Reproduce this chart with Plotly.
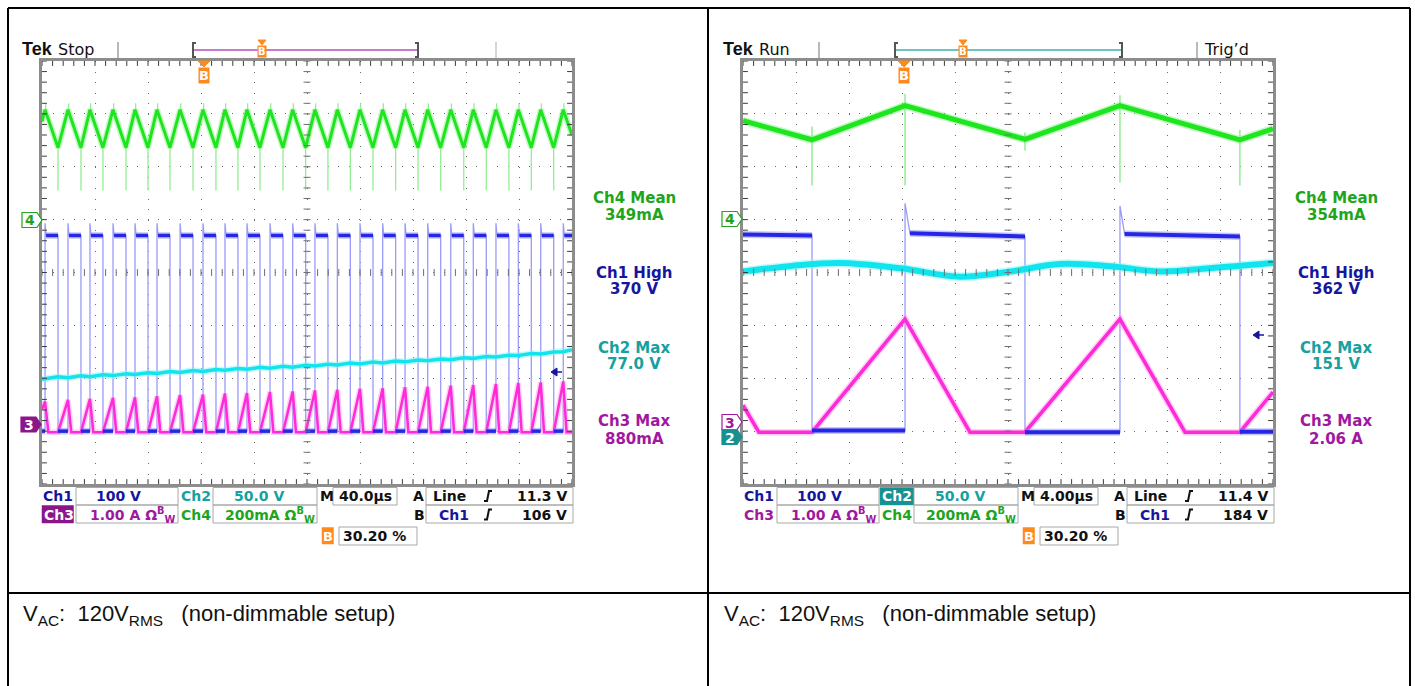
import plotly.graph_objects as go

W, H = 1415, 686

# ---------------- channel scales (per division) ----------------
SCALE = {"ch1": 100.0, "ch2": 50.0, "ch3": 1.0, "ch4": 200.0}     # V, V, A, mA
OFFSET_LEFT = {"ch1": -3.0, "ch2": -3.0, "ch3": -2.94, "ch4": 1.0}  # ground, divisions
OFFSET_RIGHT = {"ch1": -2.94, "ch2": -2.84, "ch3": -2.94, "ch4": 1.0}

# ---------------- left capture: 40 µs/div ----------------
LEFT_RISE_US = [2.3, 19.6, 36.2, 53.6, 70.2, 86.8, 104.2, 121.5, 138.1, 154.7, 172.1, 189.2,
                206.0, 222.9, 240.0, 257.1, 274.0, 291.1, 308.5, 325.5, 342.6, 359.5, 376.4, 393.4]
LEFT_FALL_US = [12.1, 29.4, 46.0, 63.4, 80.0, 96.6, 114.0, 131.3, 147.9, 164.5, 181.9, 199.0,
                215.8, 232.7, 249.8, 266.9, 283.8, 300.9, 318.3, 335.3, 352.4, 369.3, 386.2]
LEFT_CH1_HIGH_V = 370
LEFT_CH1_OVERSHOOT_V = 393
LEFT_CH1_LOW_V = 0
LEFT_CH4_PEAK_MA = 416
LEFT_CH4_VALLEY_MA = 272
LEFT_CH4_START_MA = 371
LEFT_CH4_END_MA = 320
LEFT_CH4_SPIKE_LO_MA = 110
LEFT_CH4_SPIKE_HI_MA = 440
LEFT_CH3_PEAK_A = [0.50, 0.53, 0.55, 0.57, 0.58, 0.60, 0.62, 0.63, 0.65, 0.66, 0.68, 0.69,
                   0.71, 0.72, 0.74, 0.75, 0.77, 0.78, 0.80, 0.81, 0.83, 0.85, 0.86, 0.88]
LEFT_CH3_START_A = 0.35
LEFT_CH3_BASE_A = -0.08
LEFT_CH3_FALL_US = 2.5
LEFT_CH2_LEVEL_V = [49.5, 50.5, 51.5, 52.5, 53.5, 54.5, 55.5, 56.5, 57.5, 58.5, 59.5, 60.5,
                    61.5, 62.5, 63.5, 64.5, 65.5, 66.5, 67.5, 68.8, 70.0, 71.5, 73.0, 75.0]
LEFT_CH2_RIPPLE_V = 1.8
LEFT_CH2_START_V = 49.0
LEFT_CH2_END_V = 77.0

# ---------------- right capture: 4 µs/div ----------------
RIGHT_CH1_T = [0, 5.21, 5.21, 12.23, 12.23, 12.6, 21.28, 21.28, 28.45, 28.45, 28.8, 37.5, 37.5, 40]
RIGHT_CH1_V = [366, 364, -5, -5, 425, 368, 362, -8, -8, 420, 367, 362, -7, -7]
RIGHT_CH4_T = [0, 5.21, 12.23, 21.28, 28.45, 37.5, 40]
RIGHT_CH4_MA = [374, 302, 431, 304, 431, 302, 344]
RIGHT_CH4_SPIKE_T = [5.21, 12.23, 21.28, 28.45, 37.5]
RIGHT_CH4_SPIKE_HI = [352, 476, 330, 470, 340]
RIGHT_CH4_SPIKE_LO = [129, 129, 261, 140, 129]
RIGHT_CH3_T = [0, 1.2, 5.21, 12.23, 17.13, 21.28, 28.45, 33.36, 37.5, 40]
RIGHT_CH3_A = [0.43, -0.08, -0.08, 2.06, -0.08, -0.08, 2.06, -0.08, -0.08, 0.68]
RIGHT_CH2_T = [0, 3.5, 7.3, 11.9, 16.4, 20.2, 23.9, 27.7, 31.5, 35.2, 40]
RIGHT_CH2_V = [143, 148, 151, 146, 138, 143, 150, 148, 143, 146, 151]

# ---------------- on-screen readouts ----------------
MEAS_NAMES = ["Ch4 Mean", "Ch1 High", "Ch2 Max", "Ch3 Max"]
MEAS_LEFT = ["349mA", "370 V", "77.0 V", "880mA"]
MEAS_RIGHT = ["354mA", "362 V", "151 V", "2.06 A"]
STATE = ["Stop", "Run"]
TIMEBASE = ["40.0µs", "4.00µs"]
TRIG_A = ["11.3 V", "11.4 V"]
TRIG_B = ["106 V", "184 V"]
DELAY = "30.20 %"
CAPTION = "V<sub>AC</sub>:\u00a0\u00a0120V<sub>RMS</sub>\u00a0\u00a0\u00a0(non-dimmable setup)"

# colours
C_CH1, C_CH2, C_CH3, C_CH4 = "#16169c", "#17a0a0", "#a018a0", "#1ea51e"
ORANGE = "#ff8a1c"
FONT = "DejaVu Sans"

# ---------------- helpers ----------------
def X(px):
    return px / W


def Y(py):
    return 1 - py / H


def dv(values, ch, offs):
    return [None if v is None else offs[ch] + v / SCALE[ch] for v in values]


def runs(xs, ys, thr):
    """Keep only the segments that are not near-vertical jumps."""
    ox, oy, last = [], [], None
    for i in range(len(xs) - 1):
        if xs[i + 1] - xs[i] < thr:
            continue
        if last != i:
            if ox:
                ox.append(None)
                oy.append(None)
            ox.append(xs[i])
            oy.append(ys[i])
        ox.append(xs[i + 1])
        oy.append(ys[i + 1])
        last = i + 1
    return ox, oy


fig = go.Figure()
shapes, annotations = [], []


def line_trace(xs, ys, color, width, xa, ya, opacity=1.0, shape="linear"):
    fig.add_trace(go.Scatter(x=xs, y=ys, mode="lines", xaxis=xa, yaxis=ya,
                             line=dict(color=color, width=width, shape=shape),
                             opacity=opacity, hoverinfo="skip", showlegend=False,
                             connectgaps=False))


def band(xs, ys, core, fringe, w, xa, ya, thr, shape="linear"):
    cx, cy = runs(xs, ys, thr)
    line_trace(cx, cy, fringe, w + 3, xa, ya, 0.45, shape)
    line_trace(cx, cy, core, w, xa, ya, 1.0, shape)


def label(x, y, text, color="#000", size=14, xanchor="left", bold=True, family=FONT, bg=None):
    annotations.append(dict(x=X(x), y=Y(y), xref="paper", yref="paper", text=text,
                            showarrow=False, xanchor=xanchor, yanchor="middle",
                            font=dict(family=family, size=size, color=color,
                                      weight="bold" if bold else "normal"),
                            bgcolor=bg, borderpad=0))


def path(points, color, width=1.5, fill=None, close=False):
    d = "M " + " L ".join(f"{X(px)},{Y(py)}" for px, py in points) + (" Z" if close else "")
    shapes.append(dict(type="path", xref="paper", yref="paper", path=d,
                       line=dict(color=color, width=width),
                       fillcolor=fill if fill else "rgba(0,0,0,0)", layer="above"))


def rect(x0, y0, x1, y1, color, width=1, fill=None):
    shapes.append(dict(type="rect", xref="paper", yref="paper",
                       x0=X(x0), y0=Y(y1), x1=X(x1), y1=Y(y0),
                       line=dict(color=color, width=width),
                       fillcolor=fill if fill else "rgba(0,0,0,0)", layer="above"))


# ---------------- left waveforms ----------------
offs = OFFSET_LEFT
# Ch1 drain voltage (square wave)
b_t, b_v = [0], [LEFT_CH1_LOW_V]
for k, r in enumerate(LEFT_RISE_US):
    b_t += [r, r, r + 0.8]
    b_v += [LEFT_CH1_LOW_V, LEFT_CH1_OVERSHOOT_V, LEFT_CH1_HIGH_V]
    if k < len(LEFT_FALL_US):
        f = LEFT_FALL_US[k]
        b_t += [f, f]
        b_v += [LEFT_CH1_HIGH_V, LEFT_CH1_LOW_V]
    else:
        b_t += [400]
        b_v += [LEFT_CH1_HIGH_V]
b_y = dv(b_v, "ch1", offs)
line_trace(b_t, b_y, "#9a9cf8", 1.3, "x", "y")

# Ch2 (slow rising bulk voltage with switching ripple)
c_t, c_v = [0], [LEFT_CH2_START_V]
for k, r in enumerate(LEFT_RISE_US):
    c_t.append(r)
    c_v.append(LEFT_CH2_LEVEL_V[k])
    if k < len(LEFT_FALL_US):
        c_t.append(LEFT_FALL_US[k])
        c_v.append(LEFT_CH2_LEVEL_V[k] + LEFT_CH2_RIPPLE_V)
c_t.append(400)
c_v.append(LEFT_CH2_END_V)
band(c_t, dv(c_v, "ch2", offs), "#12e4ee", "#8cf2f8", 3.5, "x", "y", 0.0)

# Ch3 (switch current ramps)
m_t, m_v = [0], [LEFT_CH3_START_A]
for k, r in enumerate(LEFT_RISE_US):
    if k > 0:
        m_t.append(LEFT_FALL_US[k - 1])
        m_v.append(LEFT_CH3_BASE_A)
    m_t += [r, r + LEFT_CH3_FALL_US]
    m_v += [LEFT_CH3_PEAK_A[k], LEFT_CH3_BASE_A]
m_t.append(400)
m_v.append(LEFT_CH3_BASE_A)
band(m_t, dv(m_v, "ch3", offs), "#ff2ad8", "#ff96ee", 2.5, "x", "y", 1.0)

# Ch1 bright levels on top of the ramps
band(b_t, b_y, "#2626e6", "#8484f4", 3.5, "x", "y", 1.0)

# Ch4 output current (triangle ripple + switching spikes)
g_t, g_v = [0], [LEFT_CH4_START_MA]
for k, r in enumerate(LEFT_RISE_US):
    g_t.append(r)
    g_v.append(LEFT_CH4_PEAK_MA)
    if k < len(LEFT_FALL_US):
        g_t.append(LEFT_FALL_US[k])
        g_v.append(LEFT_CH4_VALLEY_MA)
g_t.append(400)
g_v.append(LEFT_CH4_END_MA)
sp_t, sp_v = [], []
for f in LEFT_FALL_US:
    sp_t += [f, f, None]
    sp_v += [LEFT_CH4_VALLEY_MA, LEFT_CH4_SPIKE_LO_MA, None]
for r in LEFT_RISE_US:
    sp_t += [r + 0.5, r + 0.5, None]
    sp_v += [LEFT_CH4_PEAK_MA, LEFT_CH4_SPIKE_HI_MA, None]
line_trace(sp_t, dv(sp_v, "ch4", offs), "#92ee92", 1.3, "x", "y")
band(g_t, dv(g_v, "ch4", offs), "#1ee61e", "#80f080", 3, "x", "y", 0.0)

# ---------------- right waveforms ----------------
offs = OFFSET_RIGHT
rb_y = dv(RIGHT_CH1_V, "ch1", offs)
line_trace(RIGHT_CH1_T, rb_y, "#9a9cf8", 1.3, "x2", "y2")
band(RIGHT_CH2_T, dv(RIGHT_CH2_V, "ch2", offs), "#12e4ee", "#8cf2f8", 6, "x2", "y2", 0.0,
     shape="spline")
band(RIGHT_CH3_T, dv(RIGHT_CH3_A, "ch3", offs), "#ff2ad8", "#ff96ee", 3.5, "x2", "y2", 0.0)
band(RIGHT_CH1_T, rb_y, "#2626e6", "#8484f4", 4, "x2", "y2", 0.5)
rs_t, rs_v = [], []
for t, hi, lo in zip(RIGHT_CH4_SPIKE_T, RIGHT_CH4_SPIKE_HI, RIGHT_CH4_SPIKE_LO):
    rs_t += [t, t, None]
    rs_v += [hi, lo, None]
line_trace(rs_t, dv(rs_v, "ch4", offs), "#92ee92", 1.5, "x2", "y2")
band(RIGHT_CH4_T, dv(RIGHT_CH4_MA, "ch4", offs), "#1ee61e", "#80f080", 5, "x2", "y2", 0.0)

# ---------------- graticule tick marks ----------------
def graticule(xa, ya, span):
    step = span / 50.0
    xt = [step * k for k in range(51)]
    yt = [0.2 * j for j in range(-20, 21)]
    edge = dict(color="#3a3a3a", width=1)
    mid = dict(color="#707070", width=1)
    for yy, tick, size in ((4, edge, 7), (-4, edge, 7), (0, mid, 5)):
        fig.add_trace(go.Scatter(x=xt, y=[yy] * len(xt), mode="markers", xaxis=xa, yaxis=ya,
                                 marker=dict(symbol="line-ns", size=size, line=tick),
                                 hoverinfo="skip", showlegend=False))
    for xx, tick, size in ((0, edge, 7), (span, edge, 7), (span / 2, mid, 5)):
        fig.add_trace(go.Scatter(x=[xx] * len(yt), y=yt, mode="markers", xaxis=xa, yaxis=ya,
                                 marker=dict(symbol="line-ew", size=size, line=tick),
                                 hoverinfo="skip", showlegend=False))


graticule("x", "y", 400)
graticule("x2", "y2", 40)

# ---------------- screen furniture for both captures ----------------
GRID_L = [42, 743]
GRID_R = [572, 1273]
GRID_T, GRID_B = 61, 484
for p in range(2):
    dx = 701 * p
    gl, gr = GRID_L[p], GRID_R[p]
    rect(gl - 1.5, GRID_T - 1.5, gr + 1.5, GRID_B + 1.5, "#8c8c8c", 3)

    # header bar
    label(22 + dx - 1, 49.5, "Tek", "#111", 18, bold=True, family="Liberation Sans")
    label(57 + dx, 49.5, STATE[p], "#111", 16, bold=False)
    path([(118 + dx, 42), (118 + dx, 58)], "#a0a0a0", 1.5)
    b0, b1 = 193 + dx + p, 418 + dx + 3 * p
    path([(b0, 50), (b1, 50)], "#c47ccb" if p == 0 else "#6cc4c4", 2.2)
    path([(b0 + 3, 43), (b0, 43), (b0, 57), (b0 + 3, 57)], "#555", 2)
    path([(b1 - 3, 43), (b1, 43), (b1, 57), (b1 - 3, 57)], "#555", 2)
    tm = 262 + dx
    path([(tm - 4, 40), (tm + 4, 40), (tm, 45)], ORANGE, 1, fill=ORANGE, close=True)
    label(tm, 51.5, "B", "#fff", 10, "center", bg=ORANGE)
    path([(496 + dx, 42), (496 + dx, 58)], "#c8c8c8", 1.5)

    # trigger-position marker on the graticule
    bm = 204 + dx - 1 * p
    path([(bm - 6, 61), (bm + 6, 61), (bm, 67)], ORANGE, 1, fill=ORANGE, close=True)
    label(bm, 75.5, "B", "#fff", 13, "center", bg=ORANGE)

    # automatic measurements
    vals = MEAS_LEFT if p == 0 else MEAS_RIGHT
    cx = 634 + dx + 1 * p
    for (ny, vy), name, val, col in zip(((198, 214.5), (272.5, 289), (347.5, 364), (421, 439)),
                                          MEAS_NAMES, vals, (C_CH4, C_CH1, C_CH2, C_CH3)):
        label(cx, ny, name, col, 15, "center")
        label(cx, vy, val, col, 15, "center")

    # readout boxes
    for (x0, x1) in ((76, 178), (213, 317)):
        rect(x0 + dx, 487.5, x1 + dx, 505, "#a8a8a8")
        rect(x0 + dx, 505, x1 + dx, 523, "#a8a8a8")
    rect(333 + dx, 487.5, 397 + dx, 505, "#a8a8a8")
    rect(426 + dx, 487.5, 573 + dx, 505, "#a8a8a8")
    rect(426 + dx, 505, 573 + dx, 523, "#a8a8a8")
    rect(339 + dx, 527, 417 + dx, 545, "#a8a8a8")

    r1, r2, r3 = 496, 514.5, 536
    label(42 + dx, r1, "Ch1", C_CH1, 14)
    label(118.5 + dx, r1, "100 V", C_CH1, 14, "center")
    if p == 1:
        rect(179 + dx, 487.5, 212.5 + dx, 505, C_CH2, 0.5, fill="#189090")
        label(180 + dx, r1, "Ch2", "#fff", 14)
    else:
        label(180 + dx, r1, "Ch2", C_CH2, 14)
    label(259 + dx, r1, "50.0 V", C_CH2, 14, "center")
    label(319 + dx, r1, "M", "#111", 14)
    label(365.5 + dx, r1, TIMEBASE[p], "#111", 14, "center")
    label(418 + dx, r1, "A", "#111", 14, "center")
    label(432 + dx, r1, "Line", "#111", 14)
    label(568 + dx, r1, TRIG_A[p], "#111", 14, "right")

    if p == 0:
        rect(42 + dx, 505.5, 73.5 + dx, 523, "#8a168a", 0.5, fill="#8a168a")
        label(42.5 + dx, r2, "Ch3", "#fff", 14)
    else:
        label(42 + dx, r2, "Ch3", C_CH3, 14)
    label(177 + dx, r2, "1.00 A Ω<sup>B</sup><sub>W</sub>", C_CH3, 14, "right")
    label(180 + dx, r2, "Ch4", C_CH4, 14)
    label(316 + dx, r2, "200mA Ω<sup>B</sup><sub>W</sub>", C_CH4, 14, "right")
    label(419 + dx, r2, "B", "#111", 14, "center")
    label(438 + dx, r2, "Ch1", C_CH1, 14)
    label(568 + dx, r2, TRIG_B[p], "#111", 14, "right")

    # rising-edge slope glyphs
    for ry in (r1, r2):
        sx = 484 + dx
        path([(sx, ry + 5), (sx + 3, ry + 5), (sx + 5, ry - 5), (sx + 8, ry - 5)], "#111", 2)

    rect(322 + dx, 527.5, 333.5 + dx, 544, ORANGE, 0.5, fill=ORANGE)
    label(327.8 + dx, r3, "B", "#fff", 13, "center")
    label(342 + dx, r3, DELAY, "#111", 14)

    # caption cell
    label(22 + dx, 615, CAPTION, "#111", 22, bold=False, family="Liberation Sans")


# header text only on the running capture
path([(1197, 42), (1197, 58)], "#b0b0b0", 1.5)
label(1203, 49.5, "Trig\u2019d", "#111", 16, bold=False)


# channel ground markers
def gmarker(x0, cy, digit, color, filled):
    pts = [(x0, cy - 7.5), (x0 + 15, cy - 7.5), (x0 + 20, cy), (x0 + 15, cy + 7.5), (x0, cy + 7.5)]
    path(pts, color, 1.2, fill=color if filled else "#ffffff", close=True)
    label(x0 + 8, cy + 0.5, digit, "#ffffff" if filled else color, 14, "center")


gmarker(22, 220, "4", C_CH4, False)
gmarker(21, 424.5, "3", "#8a168a", True)
gmarker(722, 219, "4", C_CH4, False)
gmarker(722, 422, "3", C_CH3, False)
gmarker(722, 437, "2", "#189090", True)

# Ch1 trigger-level pointers
for ax, ay in ((556, 372), (1258, 335)):
    path([(ax - 5, ay), (ax + 1, ay - 4), (ax + 1, ay + 4)], C_CH1, 1, fill=C_CH1, close=True)
    path([(ax, ay), (ax + 6, ay)], C_CH1, 1.5)

# table rules
for seg in (((8, 8), (1410, 8)), ((8, 593), (1410, 593)), ((8, 8), (8, 686)),
            ((708, 8), (708, 686)), ((1410, 8), (1410, 686))):
    path(list(seg), "#000", 2)

axis_common = dict(showgrid=True, gridcolor="#6a6a6a", griddash="1px,9.58px", gridwidth=1,
                   zeroline=False, showticklabels=False, ticks="", showline=False,
                   fixedrange=True)
ydom = [Y(GRID_B), Y(GRID_T)]
fig.update_layout(
    width=W, height=H, margin=dict(l=0, r=0, t=0, b=0),
    paper_bgcolor="#ffffff", plot_bgcolor="#ffffff", showlegend=False,
    xaxis=dict(domain=[X(42), X(572)], range=[0, 400], dtick=40, tick0=0, anchor="y", **axis_common),
    yaxis=dict(domain=ydom, range=[-4, 4], dtick=1, tick0=0, anchor="x", **axis_common),
    xaxis2=dict(domain=[X(743), X(1273)], range=[0, 40], dtick=4, tick0=0, anchor="y2", **axis_common),
    yaxis2=dict(domain=ydom, range=[-4, 4], dtick=1, tick0=0, anchor="x2", **axis_common),
    shapes=shapes, annotations=annotations,
)

fig.write_html("out.html")
